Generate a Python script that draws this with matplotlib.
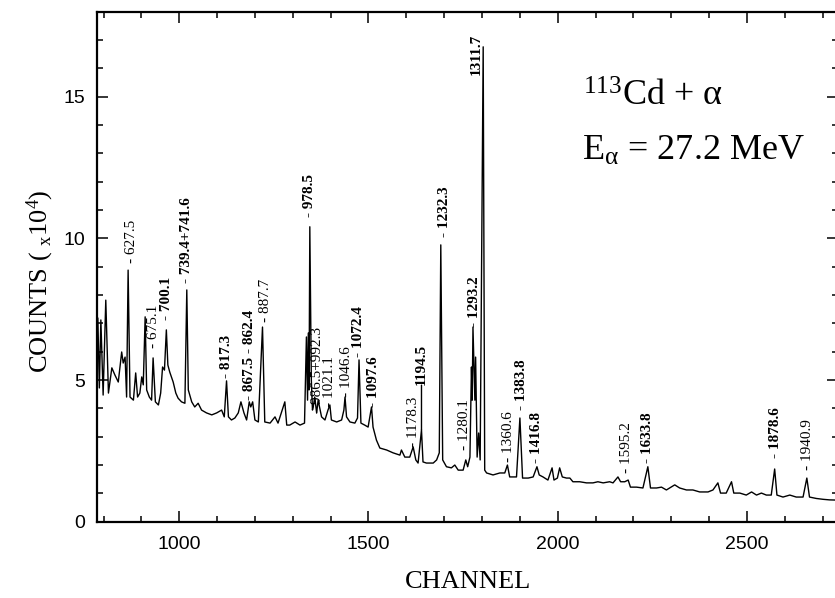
import matplotlib
matplotlib.use("Agg")
import matplotlib.pyplot as plt
from matplotlib.ticker import MultipleLocator

# spectrum: channel vs counts (x 10^4)
channel = [782, 785, 789, 793, 799, 806, 813, 822, 830, 839, 848, 852, 857, 861, 865, 870, 879,
           885, 890, 896, 901, 905, 910, 914, 921, 927, 931, 937, 945, 951, 956, 961, 966, 970,
           975, 984, 991, 997, 1006, 1015, 1020, 1024, 1033, 1041, 1050, 1059, 1072, 1086, 1099,
           1112, 1119, 1125, 1130, 1138, 1147, 1156, 1163, 1171, 1178, 1185, 1189, 1194, 1200,
           1209, 1220, 1226, 1240, 1253, 1261, 1279, 1284, 1292, 1306, 1319, 1331, 1336, 1339,
           1341, 1343, 1345, 1349, 1352, 1354, 1358, 1363, 1367, 1376, 1385, 1393, 1398, 1402,
           1416, 1429, 1435, 1438, 1442, 1451, 1464, 1471, 1475, 1480, 1490, 1499, 1508, 1512,
           1521, 1530, 1548, 1565, 1583, 1587, 1596, 1609, 1618, 1625, 1631, 1640, 1644, 1653,
           1671, 1680, 1687, 1691, 1696, 1706, 1719, 1728, 1737, 1750, 1757, 1762, 1768, 1772,
           1774, 1776, 1781, 1783, 1787, 1791, 1795, 1803, 1807, 1812, 1829, 1847, 1860, 1867,
           1873, 1891, 1900, 1907, 1922, 1935, 1945, 1951, 1961, 1974, 1985, 1990, 1999, 2005,
           2012, 2023, 2032, 2040, 2058, 2076, 2093, 2106, 2120, 2137, 2146, 2159, 2166, 2177,
           2186, 2192, 2208, 2225, 2238, 2245, 2261, 2274, 2287, 2309, 2322, 2340, 2357, 2375,
           2397, 2410, 2423, 2430, 2445, 2459, 2465, 2481, 2498, 2512, 2525, 2538, 2551, 2564,
           2573, 2579, 2595, 2613, 2630, 2648, 2658, 2665, 2683, 2701, 2718, 2745]
counts = [4.83, 7.19, 4.72, 7.12, 4.47, 7.82, 4.54, 5.43, 5.18, 4.93, 5.99, 5.60, 5.81, 4.40, 8.88,
          4.40, 4.29, 5.25, 4.40, 4.54, 5.11, 4.83, 7.23, 4.65, 4.40, 4.29, 5.78, 4.23, 4.12, 4.54,
          5.46, 5.35, 6.77, 5.53, 5.28, 4.93, 4.54, 4.36, 4.23, 4.18, 8.18, 4.65, 4.23, 4.05, 4.18,
          3.94, 3.84, 3.77, 3.84, 3.94, 3.70, 4.97, 3.70, 3.59, 3.66, 3.84, 4.23, 3.84, 3.59, 4.23,
          4.05, 4.23, 3.59, 3.52, 6.87, 3.52, 3.48, 3.70, 3.48, 4.23, 3.41, 3.41, 3.52, 3.41, 3.48,
          6.52, 4.29, 6.66, 4.65, 10.41, 5.00, 3.94, 4.05, 4.40, 3.84, 4.29, 3.70, 3.59, 3.94, 4.12,
          3.59, 3.52, 3.59, 3.94, 4.40, 3.70, 3.52, 3.48, 3.66, 5.71, 3.48, 3.41, 3.34, 4.05, 3.34,
          2.88, 2.60, 2.53, 2.43, 2.35, 2.53, 2.28, 2.28, 2.64, 2.18, 2.07, 3.24, 2.11, 2.07, 2.07,
          2.18, 2.43, 9.77, 2.18, 1.94, 1.90, 2.00, 1.82, 1.82, 2.18, 1.94, 2.28, 5.46, 4.29, 6.87,
          4.29, 5.81, 2.28, 3.13, 2.18, 16.76, 1.82, 1.72, 1.65, 1.72, 1.72, 2.00, 1.58, 1.58, 3.66,
          1.54, 1.54, 1.58, 1.94, 1.65, 1.58, 1.47, 1.90, 1.47, 1.54, 1.90, 1.58, 1.54, 1.54, 1.41,
          1.41, 1.37, 1.37, 1.41, 1.37, 1.41, 1.37, 1.58, 1.41, 1.41, 1.47, 1.22, 1.22, 1.19, 1.94,
          1.19, 1.19, 1.22, 1.12, 1.30, 1.19, 1.12, 1.12, 1.05, 1.05, 1.12, 1.37, 1.01, 1.01, 1.41,
          1.01, 1.01, 0.94, 1.05, 0.94, 1.01, 0.94, 0.94, 1.86, 0.94, 0.87, 0.94, 0.87, 0.87, 1.54,
          0.87, 0.82, 0.79, 0.77, 0.76]

# peak labels (gamma energies in keV), anchored above their peaks
peak_text = ["- 627.5", "- 675.1", "- 700.1", "- 739.4+741.6", "- 817.3", "- 867.5 - 862.4",
             "- 887.7", "- 978.5", "- 986.5+992.3", "- 1021.1", "- 1046.6", "- 1072.4",
             "- 1097.6", "- 1178.3", "1194.5", "- 1232.3", "- 1280.1", "- 1293.2", "1311.7",
             "- 1360.6", "- 1383.8", "- 1416.8", "- 1595.2", "- 1633.8", "- 1878.6", "- 1940.9"]
peak_chan = [874, 931, 967, 1020, 1125, 1185, 1229, 1345, 1365, 1398, 1442, 1473, 1512, 1618,
             1640, 1702, 1754, 1781, 1785, 1869, 1904, 1944, 2181, 2236, 2576, 2661]
peak_y = [9.13, 6.13, 7.12, 8.43, 5.07, 4.30, 7.05, 10.76, 3.84, 4.05, 4.40, 5.81, 4.05, 2.64,
          4.82, 10.05, 2.53, 6.87, 15.76, 2.11, 3.94, 2.07, 1.72, 2.07, 2.25, 1.83]
bold_peaks = {"- 700.1", "- 739.4+741.6", "- 817.3", "- 867.5 - 862.4", "- 978.5", "- 1072.4",
              "- 1097.6", "1194.5", "- 1232.3", "- 1293.2", "1311.7", "- 1383.8", "- 1416.8",
              "- 1633.8", "- 1878.6"}

plt.rcParams["mathtext.fontset"] = "custom"
plt.rcParams["mathtext.rm"] = "Liberation Serif"
plt.rcParams["mathtext.it"] = "Liberation Serif:italic"
plt.rcParams["mathtext.bf"] = "Liberation Serif:bold"

fig = plt.figure(figsize=(8.35, 5.98), dpi=100)
ax = fig.add_axes([96.7 / 835, 1 - 521.7 / 598, (837.5 - 96.7) / 835, 510.0 / 598])

ax.plot(channel, counts, color="black", lw=1.0)
ax.set_xlim(782, 2739)
ax.set_ylim(0, 18)

ax.xaxis.set_major_locator(MultipleLocator(500))
ax.xaxis.set_minor_locator(MultipleLocator(100))
ax.yaxis.set_major_locator(MultipleLocator(5))
ax.yaxis.set_minor_locator(MultipleLocator(1))
ax.tick_params(which="both", direction="in", top=True, right=True, width=1.1)
ax.tick_params(which="major", length=8)
ax.tick_params(which="minor", length=4)
ax.tick_params(axis="x", pad=10)
ax.tick_params(axis="y", pad=8)
for lab in ax.get_xticklabels() + ax.get_yticklabels():
    lab.set_family("Liberation Sans")
    lab.set_fontsize(14)
for sp in ax.spines.values():
    sp.set_linewidth(1.6)

for txt, ch, y in zip(peak_text, peak_chan, peak_y):
    ax.text(ch, y, txt, rotation=90, ha="center", va="bottom",
            family="Liberation Serif", fontsize=11,
            fontweight="bold" if txt in bold_peaks else "normal")

# leader line from the 1194.5 label down to its peak
i = peak_text.index("1194.5")
ax.annotate("", xy=(peak_chan[i], counts[channel.index(peak_chan[i])]),
            xytext=(peak_chan[i], peak_y[i]),
            arrowprops=dict(arrowstyle="-", lw=1.0, shrinkA=0, shrinkB=0))

ax.text(2066, 14.67, r"$^{113}$Cd + α", family="Liberation Serif", fontsize=26, va="baseline")
ax.text(2063, 12.77, r"E$_{\mathrm{α}}$ = 27.2 MeV", family="Liberation Serif", fontsize=26,
        va="baseline")

fig.text(468 / 835, 1 - 582 / 598, "CHANNEL", family="Liberation Serif", fontsize=19,
         ha="center", va="center")
fig.text(40 / 835, 1 - 281 / 598, r"COUNTS ( $_{\mathrm{x}}$10$^{4}$)", family="Liberation Serif",
         fontsize=19, rotation=90, ha="center", va="center")

fig.savefig("out.png", dpi=100)
